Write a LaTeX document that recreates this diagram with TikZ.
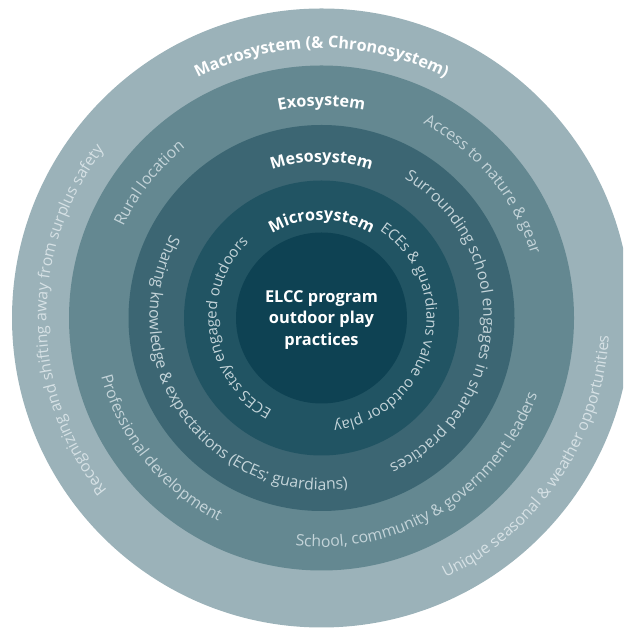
\documentclass[tikz,border=0pt]{standalone}
\usepackage{fontspec}
\setmainfont{Open Sans}
\usetikzlibrary{decorations.text}

% ring fills, outermost to innermost
\definecolor{macroFill}{RGB}{155,178,185}
\definecolor{exoFill}{RGB}{100,136,145}
\definecolor{mesoFill}{RGB}{60,102,115}
\definecolor{microFill}{RGB}{33,84,99}
\definecolor{coreFill}{RGB}{14,66,83}
% text colours
\definecolor{lblLight}{RGB}{214,225,229}
\definecolor{lblMid}{RGB}{196,212,217}

\newcommand\lblfont{\fontsize{15.8}{18}\selectfont}
\newcommand\smlblfont{\fontsize{15}{18}\selectfont}
\newcommand\ttlfont{\bfseries\fontsize{16.2}{19}\selectfont}

% text set along an arc around (c): radius, start angle, end angle, colour, font, text
\newcommand\ringtext[6]{%
  \path[decorate,decoration={text along path,text align=center,text color=#4,text={|#5|#6}}]
    ([shift={(#2:#1pt)}]c) arc[start angle=#2,end angle=#3,radius=#1pt];}

\tikzset{
  centretext/.style={align=center,text=white,font=\bfseries\fontsize{16.4}{21.5}\selectfont}
}

\begin{document}
\begin{tikzpicture}[x=1pt,y=1pt]
\useasboundingbox (0,0) rectangle (623,628);
\clip (0,0) rectangle (623,628);
\coordinate (c) at (321.5,310);

% nested systems
\fill[macroFill] (c) circle[radius=309.5pt];
\fill[exoFill]   (c) circle[radius=252.5pt];
\fill[mesoFill]  (c) circle[radius=193pt];
\fill[microFill] (c) circle[radius=137.5pt];
\fill[coreFill]  (c) circle[radius=85.5pt];

% system titles
\ringtext{270}{150}{30}{white}{\ttlfont}{Macrosystem ({\&} Chronosystem)}
\ringtext{212}{150}{30}{white}{\ttlfont}{Exosystem}
\ringtext{156}{160}{20}{white}{\ttlfont}{Mesosystem}
\ringtext{98}{175}{5}{white}{\ttlfont}{Microsystem}

% macrosystem factors
\ringtext{275}{265}{96}{lblLight}{\lblfont}{Recognizing and shifting away from surplus safety}
\ringtext{288}{-114}{46}{lblLight}{\lblfont}{Unique seasonal {\&} weather opportunities}

% exosystem factors
\ringtext{218}{222}{62}{lblMid}{\lblfont}{Rural location}
\ringtext{219}{119.6}{-40.4}{lblMid}{\lblfont}{Access to nature {\&} gear}
\ringtext{228}{139}{299}{lblMid}{\lblfont}{Professional development}
\ringtext{229}{-138}{22}{lblMid}{\lblfont}{School, community {\&} government leaders}

% mesosystem factors
\ringtext{162}{90}{-96}{lblMid}{\lblfont}{Surrounding school engages in shared practices}
\ringtext{172}{121}{309}{lblMid}{\lblfont}{Sharing knowledge {\&} expectations (ECEs; guardians)}

% microsystem factors
\ringtext{105}{84}{-111}{lblMid}{\smlblfont}{ECEs {\&} guardians value outdoor play}
\ringtext{105}{283}{93}{lblMid}{\smlblfont}{ECES stay engaged outdoors}

% centre
\node[centretext] (core) at ([yshift=-2pt]c) {ELCC program\\outdoor play\\practices};
\end{tikzpicture}
\end{document}
